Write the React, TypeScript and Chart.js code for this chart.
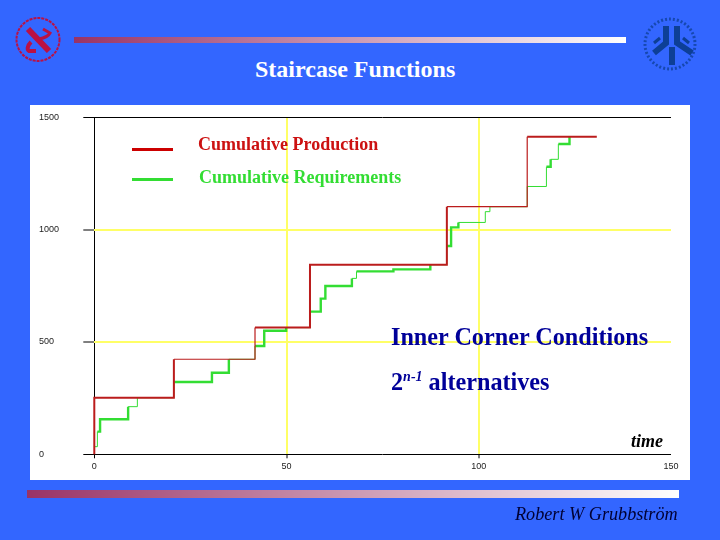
import { useEffect, useRef } from "react";
import { Chart, registerables } from "chart.js";

Chart.register(...registerables);

// each value is reached at its time and held until the next one
const productionTimes = [0, 0, 20.7, 41.8, 56.1, 91.7, 112.6, 130.7];
const productionValues = [0, 252, 423, 564, 844, 1102, 1413, 1413];

const requirementTimes = [
  0, 0.8, 1.5, 8.8, 11.2, 20.7, 30.6, 35, 41.8, 44.2, 49.9, 56.1, 58.9, 60.1,
  67, 68.2, 77.8, 87.4, 91.7, 92.8, 94.7, 101.7, 102.9, 112.6, 117.6, 118.7,
  120.7, 123.6,
];
const requirementValues = [
  34, 101, 156, 212, 252, 322, 363, 423, 482, 550, 564, 635, 693, 749, 783,
  814, 823, 844, 927, 1010, 1032, 1080, 1102, 1192, 1280, 1313, 1381, 1413,
];

const xTicks = [0, 50, 100, 150];
const yTicks = [0, 500, 1000, 1500];

// steps that come out thinner in the reference, or that run hidden under the red line
const thinProductionSteps = [2, 5];
const thinRequirementSteps = [0, 3, 4, 7, 10, 14, 17, 20, 21, 22, 23, 25];

const BLUE = "#3366ff";
const RED = "#bb1c1c";
const GREEN = "#33dd33";
const NAVY = "#000099";
const YELLOW = "#ffff66";
const SERIF = '"Liberation Serif", serif';

function toPoints(xs: number[], ys: number[]) {
  return xs.map((x, i) => ({ x, y: ys[i] }));
}

function abs(left: number, top: number): React.CSSProperties {
  return { position: "absolute", left, top, whiteSpace: "nowrap" };
}

function Logos() {
  return (
    <svg width={720} height={100} style={{ position: "absolute", left: 0, top: 0 }}>
      <g fill="none" stroke="#bb1144">
        <circle cx={38} cy={39.5} r={21.5} strokeWidth={2} strokeDasharray="3 1" />
        <path d="M28 29 L49 51" strokeWidth={6} />
        <path d="M43 29 L50 33 C48 37 44 38 39 39" strokeWidth={3} />
        <path d="M31 42 C27 46 27 50 29 51 L36 51" strokeWidth={4} />
      </g>
      <g fill="none" stroke="#0d3f96">
        <circle cx={670} cy={44} r={25} strokeWidth={3} strokeDasharray="2 2" opacity={0.75} />
        <path d="M666 26 L666 43 L654 53" strokeWidth={6} />
        <path d="M677 26 L677 43 L692 53" strokeWidth={6} />
        <path d="M672 47 L672 65" strokeWidth={6} />
        <path d="M660 38 L654 43" strokeWidth={3} />
        <path d="M683 38 L689 43" strokeWidth={3} />
      </g>
    </svg>
  );
}

export default function App() {
  const canvasRef = useRef<HTMLCanvasElement | null>(null);

  useEffect(() => {
    if (!canvasRef.current) return;

    const chart = new Chart(canvasRef.current, {
      type: "line",
      data: {
        datasets: [
          {
            label: "Cumulative Production",
            data: toPoints(productionTimes, productionValues),
            borderColor: RED,
            borderWidth: 2,
            stepped: "before",
            pointRadius: 0,
            clip: false,
            segment: {
              borderWidth: (ctx) =>
                thinProductionSteps.includes(ctx.p0DataIndex) ? 1.2 : undefined,
            },
          },
          {
            label: "Cumulative Requirements",
            data: toPoints(requirementTimes, requirementValues),
            borderColor: GREEN,
            borderWidth: 2.4,
            stepped: "before",
            pointRadius: 0,
            clip: false,
            segment: {
              borderWidth: (ctx) =>
                thinRequirementSteps.includes(ctx.p0DataIndex) ? 1 : undefined,
            },
          },
        ],
      },
      options: {
        responsive: false,
        animation: false,
        layout: { padding: { left: 39, right: 49, top: 117.3, bottom: 65.7 } },
        plugins: {
          legend: { display: false },
          title: { display: false },
          tooltip: { enabled: false },
        },
        scales: {
          x: {
            type: "linear",
            min: 0,
            max: 150,
            afterBuildTicks: (scale) => {
              scale.ticks = xTicks.map((value) => ({ value }));
            },
            afterFit: (scale) => {
              scale.height = 20;
            },
            border: { display: false },
            grid: {
              tickLength: 4,
              tickWidth: 1,
              tickColor: (ctx) => (ctx.tick?.value === 150 ? "transparent" : "#000"),
              lineWidth: (ctx) => (ctx.tick?.value === 0 ? 1 : 2),
              color: (ctx) => {
                if (ctx.tick?.value === 0) return "#000";
                if (ctx.tick?.value === 150) return "transparent";
                return YELLOW;
              },
            },
            ticks: {
              color: "#222",
              padding: 3,
              maxRotation: 0,
              callback: (value) => String(value),
              font: { family: "Liberation Sans", size: 9 },
            },
          },
          y: {
            type: "linear",
            min: 0,
            max: 1500,
            afterBuildTicks: (scale) => {
              scale.ticks = yTicks.map((value) => ({ value }));
            },
            afterFit: (scale) => {
              scale.width = 55.3;
            },
            border: { display: false },
            grid: {
              tickLength: 11,
              tickColor: "#000",
              tickWidth: 1,
              lineWidth: (ctx) =>
                ctx.tick?.value === 0 || ctx.tick?.value === 1500 ? 1 : 2,
              color: (ctx) =>
                ctx.tick?.value === 0 || ctx.tick?.value === 1500 ? "#000" : YELLOW,
            },
            ticks: {
              color: "#222",
              crossAlign: "far",
              callback: (value) => String(value),
              font: { family: "Liberation Sans", size: 9 },
            },
          },
        },
      },
    });

    return () => chart.destroy();
  }, []);

  return (
    <div style={{ position: "absolute", left: 0, top: 0, width: 720, height: 540, background: BLUE, overflow: "hidden", fontFamily: SERIF }}>
      <Logos />
      <div style={{ position: "absolute", left: 74, top: 37, width: 552, height: 6, background: "linear-gradient(to right, #993366, #ffffff)" }} />
      <div style={{ ...abs(255, 55), color: "#fff", fontSize: 24, lineHeight: "28px", fontWeight: "bold" }}>Staircase Functions</div>

      <div style={{ position: "absolute", left: 30, top: 105, width: 660, height: 375, background: "#fff" }} />
      <canvas ref={canvasRef} width={720} height={540} style={{ position: "absolute", left: 0, top: 0 }} />

      <div style={{ position: "absolute", left: 132, top: 148, width: 41, height: 3, background: "#cc0000" }} />
      <div style={{ position: "absolute", left: 132, top: 178, width: 41, height: 3, background: GREEN }} />
      <div style={{ ...abs(198, 134), color: "#cc1111", fontSize: 18, lineHeight: "21px", fontWeight: "bold" }}>Cumulative Production</div>
      <div style={{ ...abs(199, 167), color: GREEN, fontSize: 18, lineHeight: "21px", fontWeight: "bold" }}>Cumulative Requirements</div>

      <div style={{ ...abs(391, 323), color: NAVY, fontSize: 24.2, lineHeight: "28px", fontWeight: "bold" }}>Inner Corner Conditions</div>
      <div style={{ ...abs(391, 368), color: NAVY, fontSize: 24.2, lineHeight: "28px", fontWeight: "bold" }}>
        2<sup style={{ fontSize: 14, fontStyle: "italic", lineHeight: 0 }}>n-1</sup> alternatives
      </div>
      <div style={{ ...abs(631, 431), color: "#000", fontSize: 18, lineHeight: "20px", fontWeight: "bold", fontStyle: "italic" }}>time</div>

      <div style={{ position: "absolute", left: 27, top: 490, width: 652, height: 8, background: "linear-gradient(to right, #993366, #ffffff)" }} />
      <div style={{ ...abs(515, 503), color: "#000033", fontSize: 18.2, lineHeight: "23px", fontStyle: "italic" }}>Robert W Grubbström</div>
    </div>
  );
}
